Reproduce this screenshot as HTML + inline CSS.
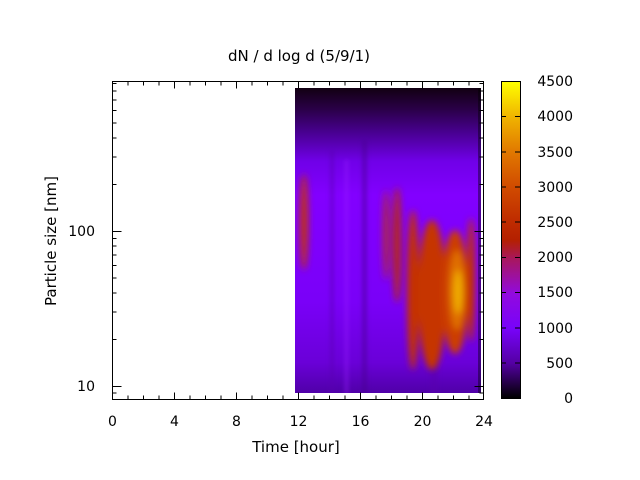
<!DOCTYPE html>
<html><head><meta charset="utf-8"><style>
html,body{margin:0;padding:0;background:#fff;}
svg{display:block;font-family:"DejaVu Sans","Liberation Sans",sans-serif;}
</style></head><body>
<svg width="640" height="480" viewBox="0 0 640 480" xmlns="http://www.w3.org/2000/svg">
<defs>
<linearGradient id="cb" x1="0" y1="1" x2="0" y2="0">
<stop offset="0" stop-color="#000000"/>
<stop offset="0.11" stop-color="#5400a3"/>
<stop offset="0.22" stop-color="#7803fa"/>
<stop offset="0.33" stop-color="#920ade"/>
<stop offset="0.44" stop-color="#a8175e"/>
<stop offset="0.5" stop-color="#b42000"/>
<stop offset="0.56" stop-color="#bf2c00"/>
<stop offset="0.67" stop-color="#d14c00"/>
<stop offset="0.78" stop-color="#e17900"/>
<stop offset="0.89" stop-color="#f0b400"/>
<stop offset="1" stop-color="#ffff00"/>
</linearGradient>
<linearGradient id="bg" x1="0" y1="0" x2="0" y2="1">
<stop offset="0" stop-color="#120012"/>
<stop offset="0.07" stop-color="#2a0048"/>
<stop offset="0.15" stop-color="#4a0095"/>
<stop offset="0.24" stop-color="#7000e8"/>
<stop offset="0.35" stop-color="#8200ff"/>
<stop offset="0.7" stop-color="#7a00f8"/>
<stop offset="0.9" stop-color="#6a00d8"/>
<stop offset="1" stop-color="#5000a8"/>
</linearGradient>
<filter id="bl" x="-50%" y="-50%" width="200%" height="200%"><feGaussianBlur stdDeviation="3.5"/></filter>
<filter id="bl2" x="-50%" y="-50%" width="200%" height="200%"><feGaussianBlur stdDeviation="2"/></filter>
<clipPath id="hc"><rect x="295" y="88" width="186" height="305"/></clipPath>
</defs>
<text x="299" y="61" font-size="15" text-anchor="middle">dN / d log d (5/9/1)</text>
<g clip-path="url(#hc)">
<rect x="295" y="88" width="186" height="305" fill="url(#bg)"/>
<g filter="url(#bl2)" opacity="0.5">
<rect x="330" y="150" width="4" height="245" fill="#5a00b0"/>
<rect x="362" y="140" width="5" height="255" fill="#4a0090"/>
<rect x="345" y="160" width="3" height="235" fill="#9a20ff"/>
<rect x="430" y="300" width="8" height="95" fill="#5a00b0"/>
</g>
<g filter="url(#bl)">
<ellipse cx="304" cy="222" rx="4" ry="48" fill="#c03010"/>
<ellipse cx="386" cy="235" rx="3" ry="45" fill="#b02a30"/>
<ellipse cx="397" cy="245" rx="4" ry="58" fill="#b82a10"/>
<ellipse cx="413" cy="290" rx="6" ry="80" fill="#c43000"/>
<ellipse cx="432" cy="295" rx="14" ry="75" fill="#c63400"/>
<ellipse cx="455" cy="292" rx="13" ry="62" fill="#cc3c00"/>
<ellipse cx="471" cy="280" rx="4" ry="62" fill="#c43000"/>
<ellipse cx="457" cy="290" rx="8" ry="40" fill="#e07000"/>
<ellipse cx="458" cy="292" rx="4" ry="22" fill="#f0b000"/>
</g>
<rect x="478" y="88" width="3" height="305" fill="#000" opacity="0.4"/>
</g>
<g stroke="#000" stroke-width="1" fill="none">
<rect x="112.5" y="81.5" width="371" height="318"/>
<path d="M112.5 386.5h9M483.5 386.5h-9M112.5 231.5h9M483.5 231.5h-9"/>
<path d="M112.5 393h4M112.5 339.5h4M112.5 312h4M112.5 293h4M112.5 278h4M112.5 265.5h4M112.5 255h4M112.5 246h4M112.5 238.5h4M112.5 184.5h4M112.5 157h4M112.5 138h4M112.5 123h4M112.5 110.5h4M112.5 100h4M112.5 91h4M112.5 83.5h4"/>
<path d="M483.5 393h-4M483.5 339.5h-4M483.5 312h-4M483.5 293h-4M483.5 278h-4M483.5 265.5h-4M483.5 255h-4M483.5 246h-4M483.5 238.5h-4M483.5 184.5h-4M483.5 157h-4M483.5 138h-4M483.5 123h-4M483.5 110.5h-4M483.5 100h-4M483.5 91h-4M483.5 83.5h-4"/>
<path d="M128 399.5v-4M143.5 399.5v-4M159 399.5v-4M190 399.5v-4M205.5 399.5v-4M221 399.5v-4M252 399.5v-4M267.5 399.5v-4M283 399.5v-4M314 399.5v-4M329.5 399.5v-4M345 399.5v-4M376 399.5v-4M391.5 399.5v-4M407 399.5v-4M438 399.5v-4M453.5 399.5v-4M469 399.5v-4"/>
<path d="M174.5 399.5v-7M236.5 399.5v-7M298.5 399.5v-7M360.5 399.5v-7M422.5 399.5v-7"/>
<path d="M128 81.5v4M143.5 81.5v4M159 81.5v4M190 81.5v4M205.5 81.5v4M221 81.5v4M252 81.5v4M267.5 81.5v4M283 81.5v4M314 81.5v4M329.5 81.5v4M345 81.5v4M376 81.5v4M391.5 81.5v4M407 81.5v4M438 81.5v4M453.5 81.5v4M469 81.5v4"/>
<path d="M174.5 81.5v7M236.5 81.5v7M298.5 81.5v7M360.5 81.5v7M422.5 81.5v7"/>
</g>
<rect x="501" y="82" width="19" height="316" fill="url(#cb)"/>
<rect x="501.5" y="81.5" width="19" height="317" fill="none" stroke="#000"/>
<g stroke="#000"><path d="M501 363h5M520 363h-5M501 328h5M520 328h-5M501 292.5h5M520 292.5h-5M501 257.5h5M520 257.5h-5M501 222h5M520 222h-5M501 187h5M520 187h-5M501 152h5M520 152h-5M501 116.5h5M520 116.5h-5"/></g>
<g font-size="14" fill="#000">
<text x="95" y="236" text-anchor="end">100</text>
<text x="95" y="391" text-anchor="end">10</text>
<g text-anchor="middle">
<text x="112.5" y="426">0</text><text x="174.5" y="426">4</text><text x="236.5" y="426">8</text>
<text x="298.5" y="426">12</text><text x="360.5" y="426">16</text><text x="422.5" y="426">20</text><text x="484" y="426">24</text>
</g>
<g text-anchor="end">
<text x="573" y="403">0</text><text x="573" y="368">500</text><text x="573" y="333">1000</text><text x="573" y="297">1500</text>
<text x="573" y="262">2000</text><text x="573" y="227">2500</text><text x="573" y="192">3000</text><text x="573" y="157">3500</text>
<text x="573" y="121">4000</text><text x="573" y="86">4500</text>
</g>
<text x="296" y="452" font-size="15" text-anchor="middle">Time [hour]</text>
<text transform="translate(56,241) rotate(-90)" font-size="15" text-anchor="middle">Particle size [nm]</text>
</g>
</svg>
</body></html>
